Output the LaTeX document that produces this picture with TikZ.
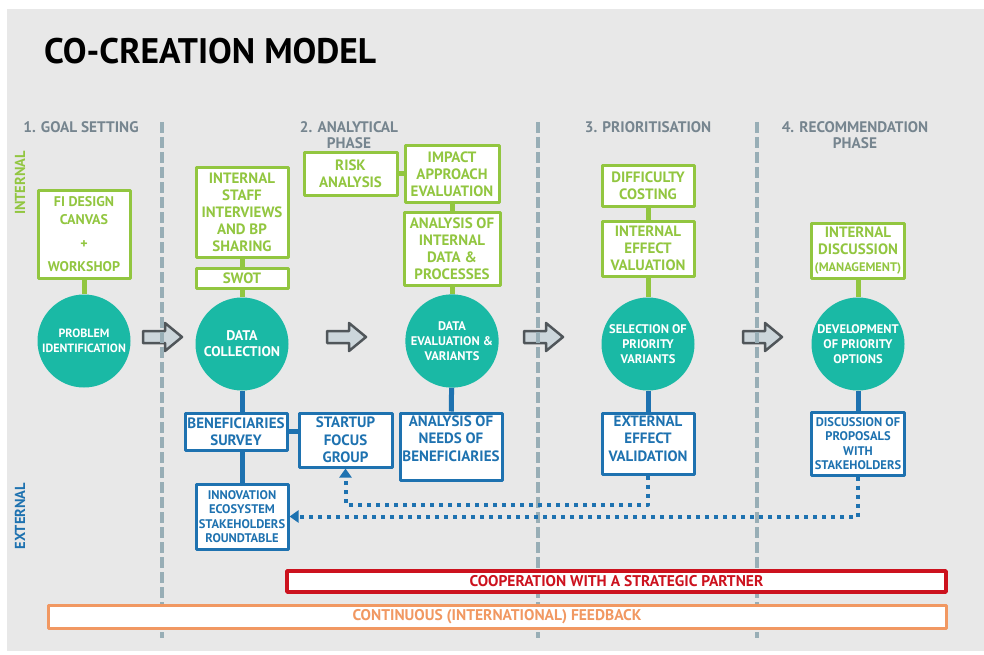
\documentclass[tikz,border=0pt]{standalone}
\usepackage{fontspec}
\setmainfont{PT Sans}
\usetikzlibrary{arrows.meta}
\definecolor{panelgray}{RGB}{232,232,232}
\definecolor{leafgreen}{RGB}{146,198,64}
\definecolor{stageteal}{RGB}{26,185,165}
\definecolor{deepblue}{RGB}{30,114,176}
\definecolor{slate}{RGB}{118,133,143}
\definecolor{dashgray}{RGB}{152,174,182}
\definecolor{signalred}{RGB}{204,18,30}
\definecolor{peach}{RGB}{241,152,98}
\definecolor{arrowfill}{RGB}{204,214,219}
\definecolor{arrowedge}{RGB}{80,86,90}

\begin{document}
\begin{tikzpicture}[x=1pt,y=-1pt,line join=round,
  every node/.style={font=\bfseries,align=center,inner sep=1pt},
  greentext/.style={text=leafgreen,font=\bfseries\fontsize{15}{17}\selectfont},
  bluetext/.style={text=deepblue,font=\bfseries\fontsize{15}{17.5}\selectfont},
  greenbox/.style={greentext,draw=leafgreen,line width=3pt,fill=white,minimum width=92pt},
  bluebox/.style={bluetext,draw=deepblue,line width=3pt,fill=white,minimum width=92pt},
  stage/.style={circle,fill=stageteal,text=white,minimum size=93pt,
    font=\bfseries\fontsize{12.5}{15}\selectfont},
  phase/.style={text=slate,font=\bfseries\fontsize{15.3}{16.5}\selectfont},
  side/.style={rotate=90,font=\bfseries\fontsize{14.5}{16}\selectfont},
  band/.style={line width=3pt,fill=white,font=\bfseries\fontsize{15.5}{16}\selectfont},
  greenlink/.style={leafgreen,line width=5pt},
  bluelink/.style={deepblue,line width=5pt},
  dotlink/.style={deepblue,line width=4pt,dash pattern=on 4pt off 5pt,
    -{Triangle[length=9pt,width=12pt]}},
  separator/.style={dashgray,line width=4pt,dash pattern=on 11pt off 4pt}]
  \useasboundingbox (0,0) rectangle (984,655);
  \fill[white] (0,0) rectangle (984,655);
  \fill[panelgray] (7,9) rectangle (984,651);

  \node[anchor=west,font=\bfseries\fontsize{35.5}{40}\selectfont] (title) at (43,51) {CO-CREATION MODEL};

  % phase headings and side labels
  \node[phase] (goal) at (81,127) {1. GOAL SETTING};
  \node[phase] (analytic) at (349,135) {2. ANALYTICAL\\PHASE};
  \node[phase] (prior) at (648,127) {3. PRIORITISATION};
  \node[phase] (recomm) at (855,135) {4. RECOMMENDATION\\PHASE};
  \node[side,text=leafgreen] (internal) at (20,183) {INTERNAL};
  \node[side,text=deepblue] (external-side) at (20,516) {EXTERNAL};

  % block arrows between the stages
  \foreach \ax in {143,327,524,743}
    \draw[arrowedge,fill=arrowfill,line width=2.5pt] (\ax,331) -- ++(22,0) -- ++(0,-8)
      -- ++(17,14) -- ++(-17,14) -- ++(0,-8) -- ++(-22,0) -- cycle;

  \foreach \sx in {162,538,757}
    \draw[separator] (\sx,122) -- (\sx,638);

  % stages
  \node[stage,font=\bfseries\fontsize{12}{15}\selectfont] (problem) at (84,341) {PROBLEM\\IDENTIFICATION};
  \node[stage,font=\bfseries\fontsize{14}{16}\selectfont] (collection) at (242,344) {DATA\\COLLECTION};
  \node[stage] (evaluation) at (452,341) {DATA\\EVALUATION \&\\VARIANTS};
  \node[stage] (selection) at (648,344) {SELECTION OF\\PRIORITY\\VARIANTS};
  \node[stage] (development) at (858,344) {DEVELOPMENT\\OF PRIORITY\\OPTIONS};

  % internal steps
  \node[greenbox,font=\bfseries\fontsize{14}{18}\selectfont,minimum height=88pt] (canvas) at (84,234) {FI DESIGN\\CANVAS\\[6pt]+\\[5pt]WORKSHOP};
  \node[greenbox,minimum height=89pt] (staff) at (242,212.5) {INTERNAL\\STAFF\\INTERVIEWS\\AND BP\\SHARING};
  \node[greenbox,minimum height=20pt] (swot) at (242,278) {SWOT};
  \node[greenbox,minimum width=93pt,minimum height=42pt] (risk) at (350.5,174) {RISK\\ANALYSIS};
  \node[greenbox,minimum width=94pt,minimum height=56pt] (impact) at (452,174) {IMPACT\\APPROACH\\EVALUATION};
  \node[greenbox,minimum width=96pt,minimum height=73pt] (internaldata) at (452,248.5) {ANALYSIS OF\\INTERNAL\\DATA \&\\PROCESSES};
  \node[greenbox,minimum height=40pt] (difficulty) at (648,186) {DIFFICULTY\\COSTING};
  \node[greenbox,minimum height=55pt] (effect) at (648,248.5) {INTERNAL\\EFFECT\\VALUATION};
  \node[greenbox,minimum width=93pt,minimum height=55pt] (discussion) at (858,250.5) {INTERNAL\\DISCUSSION\\{\fontsize{12.4}{14}\selectfont(MANAGEMENT)}};

  % external steps
  \node[bluebox,minimum width=102pt,minimum height=37pt] (survey) at (236,431.5) {BENEFICIARIES\\SURVEY};
  \node[bluebox,minimum width=93pt,minimum height=54pt] (startup) at (345.5,440) {STARTUP\\FOCUS\\GROUP};
  \node[bluebox,minimum width=102pt,minimum height=67pt] (needs) at (451,446.5) {};
  \node[bluetext,anchor=north] (needs-text) at ([yshift=-3pt]needs.north) {ANALYSIS OF\\NEEDS OF\\BENEFICIARIES};
  \node[bluebox,minimum height=61pt] (external) at (648,443.5) {};
  \node[bluetext,anchor=north] (external-text) at ([yshift=-3pt]external.north) {EXTERNAL\\EFFECT\\VALIDATION};
  \node[bluebox,font=\bfseries\fontsize{12.5}{14.5}\selectfont,minimum height=65pt] (innovation) at (242,516.5) {INNOVATION\\ECOSYSTEM\\STAKEHOLDERS\\ROUNDTABLE};
  \node[bluebox,font=\bfseries\fontsize{12.5}{14.3}\selectfont,minimum width=93pt,minimum height=63pt] (proposals) at (858,443.5) {DISCUSSION OF\\PROPOSALS\\WITH\\STAKEHOLDERS};

  \draw[greenlink] (canvas) -- (problem);
  \draw[greenlink] (staff) -- (swot);
  \draw[greenlink] (swot) -- (collection);
  \draw[greenlink] (risk) -- (impact);
  \draw[greenlink] (impact) -- (internaldata);
  \draw[greenlink] (internaldata) -- (evaluation);
  \draw[greenlink] (difficulty) -- (effect);
  \draw[greenlink] (effect) -- (selection);
  \draw[greenlink] (discussion) -- (development);

  \draw[bluelink] (collection) -- (collection |- survey.north);
  \draw[bluelink] (survey.east) -- (survey.east -| startup.west);
  \draw[bluelink] (innovation.north) -- (innovation.north |- survey.south);
  \draw[bluelink] (evaluation) -- (needs);
  \draw[bluelink] (selection) -- (external);
  \draw[bluelink] (development) -- (proposals);

  \draw[dotlink] (external.south) -- ++(0,29) -| (startup.south);
  \draw[dotlink] (proposals.south) |- (innovation.east);

  % long-running tracks
  \node[band,draw=signalred,text=signalred,line width=3.5pt,minimum width=659pt,minimum height=21pt] (partner) at (616.5,581.5) {COOPERATION WITH A STRATEGIC PARTNER};
  \node[band,draw=peach,text=peach,minimum width=898pt,minimum height=23pt] (feedback) at (497,616.5) {CONTINUOUS (INTERNATIONAL) FEEDBACK};
\end{tikzpicture}
\end{document}
